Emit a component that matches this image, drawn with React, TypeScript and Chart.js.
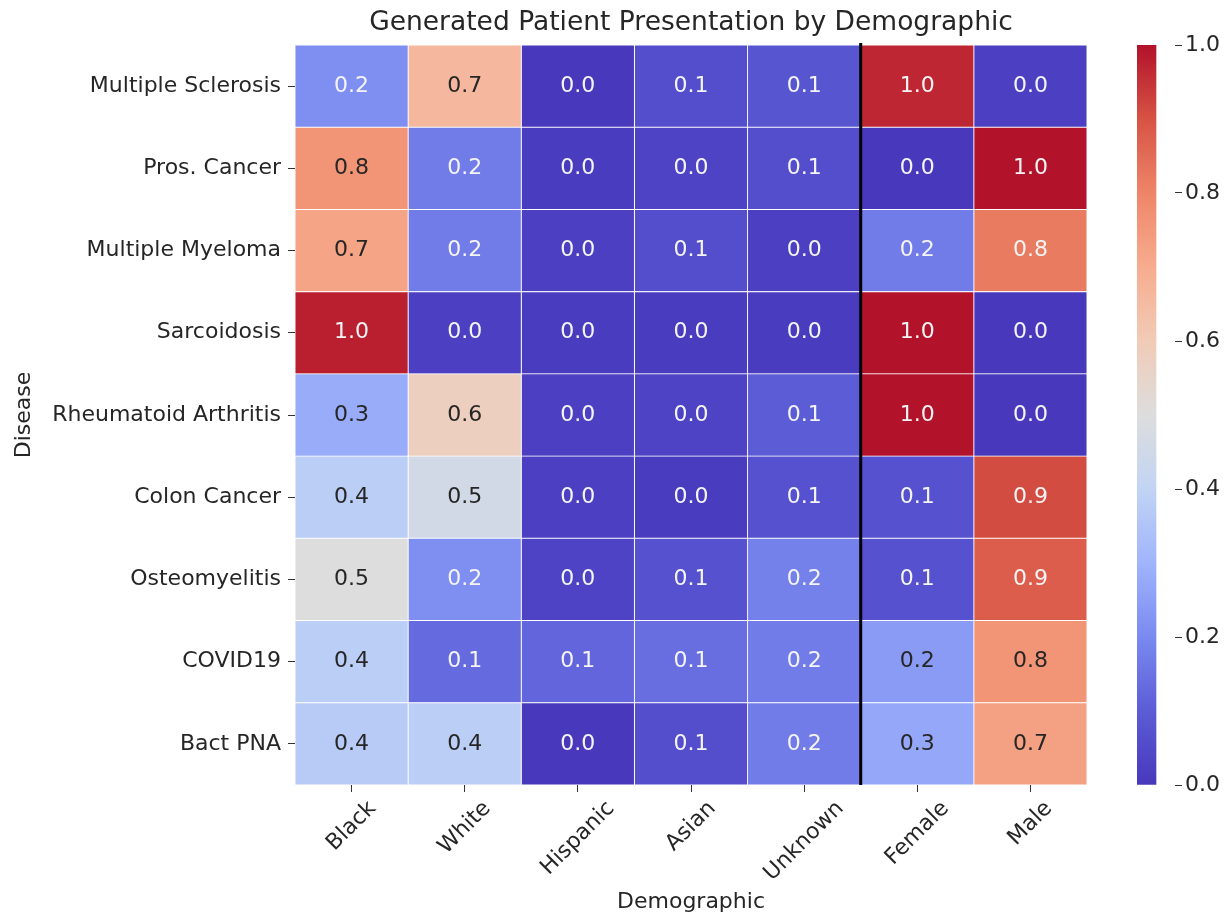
import React, { useEffect, useRef } from "react";
import { Chart, registerables } from "chart.js";

Chart.register(...registerables);
Chart.defaults.font.family = "'DejaVu Sans', 'Liberation Sans', sans-serif";

// ---------------- data ----------------
const diseases = [
  "Multiple Sclerosis",
  "Pros. Cancer",
  "Multiple Myeloma",
  "Sarcoidosis",
  "Rheumatoid Arthritis",
  "Colon Cancer",
  "Osteomyelitis",
  "COVID19",
  "Bact PNA",
];
const demographics = ["Black", "White", "Hispanic", "Asian", "Unknown", "Female", "Male"];

const blackValues = [0.21, 0.76, 0.72, 0.98, 0.28, 0.38, 0.5, 0.38, 0.37];
const whiteValues = [0.66, 0.17, 0.17, 0.02, 0.58, 0.46, 0.21, 0.13, 0.38];
const hispanicValues = [0.0, 0.01, 0.02, 0.01, 0.02, 0.02, 0.03, 0.12, 0.0];
const asianValues = [0.06, 0.03, 0.06, 0.01, 0.03, 0.01, 0.07, 0.14, 0.06];
const unknownValues = [0.08, 0.06, 0.02, 0.01, 0.1, 0.07, 0.18, 0.17, 0.17];
const femaleValues = [0.97, 0.0, 0.17, 1.0, 1.0, 0.07, 0.07, 0.24, 0.27];
const maleValues = [0.02, 1.0, 0.82, 0.0, 0.0, 0.91, 0.88, 0.76, 0.73];

const colorbarRange = [0, 1];
const colorbarTickStep = 0.2;
const separatorIndex = 5; // line between "Unknown" and "Female"

const chartTitle = "Generated Patient Presentation by Demographic";
const xAxisTitle = "Demographic";
const yAxisTitle = "Disease";

// ---------------- styling ----------------
const columns = [blackValues, whiteValues, hispanicValues, asianValues, unknownValues, femaleValues, maleValues];

const cmapStops: [number, number[]][] = [
  [0.0, [72, 56, 188]],
  [0.1, [92, 92, 214]],
  [0.2, [122, 138, 240]],
  [0.3, [160, 180, 252]],
  [0.4, [194, 212, 244]],
  [0.5, [221, 221, 221]],
  [0.6, [241, 203, 183]],
  [0.7, [247, 172, 142]],
  [0.8, [238, 133, 104]],
  [0.9, [215, 83, 68]],
  [1.0, [178, 18, 42]],
];

function valueToColor(v: number): string {
  const t = Math.max(0, Math.min(1, v));
  for (let i = 1; i < cmapStops.length; i++) {
    const [t1, c1] = cmapStops[i];
    const [t0, c0] = cmapStops[i - 1];
    if (t <= t1) {
      const f = (t - t0) / (t1 - t0);
      const c = c0.map((a, k) => Math.round(a + (c1[k] - a) * f));
      return `rgb(${c[0]},${c[1]},${c[2]})`;
    }
  }
  const c = cmapStops[cmapStops.length - 1][1];
  return `rgb(${c[0]},${c[1]},${c[2]})`;
}

function textColorFor(v: number): string {
  return v > 0.235 && v < 0.765 ? "#262626" : "#f4f4f4";
}

const FONT = "'DejaVu Sans', 'Liberation Sans', sans-serif";
const TEXT = "#262626";
const TICK = "#333333";
const FS = 22;

// page-coordinate layout (canvases are placed at page origin)
const MAIN_W = 1100;
const H = 922;
const AREA_RIGHT = 1087;
const AREA_LEFT = 295;
const AREA_TOP = 45;
const AREA_BOTTOM = 785;
const CB_LEFT_PAGE = 1108;
const CB_W = 118;
const CB_AREA_LEFT = 1137;
const CB_AREA_RIGHT = 1175;

const heatmapDecor = {
  id: "heatmapDecor",
  afterDatasetsDraw(chart: any) {
    const { ctx, chartArea, scales } = chart;
    const x = scales.x;
    const y = scales.y;
    ctx.save();
    // separator line
    const lx = x.getPixelForValue(separatorIndex);
    ctx.strokeStyle = "#000000";
    ctx.lineWidth = 3;
    ctx.beginPath();
    ctx.moveTo(lx, chartArea.top - 2);
    ctx.lineTo(lx, chartArea.bottom);
    ctx.stroke();
    // annotations
    ctx.font = `${FS}px ${FONT}`;
    ctx.textAlign = "center";
    ctx.textBaseline = "middle";
    columns.forEach((col, c) => {
      col.forEach((v, r) => {
        ctx.fillStyle = textColorFor(v);
        ctx.fillText(v.toFixed(1), x.getPixelForValue(c + 0.5), y.getPixelForValue(r));
      });
    });
    ctx.restore();
  },
  afterDraw(chart: any) {
    const { ctx, chartArea, scales } = chart;
    const x = scales.x;
    ctx.save();
    ctx.fillStyle = TEXT;
    // x tick labels, rotated 45deg, centered under tick
    ctx.font = `${FS}px ${FONT}`;
    ctx.textAlign = "center";
    ctx.textBaseline = "middle";
    const topY = chartArea.bottom + 7 + 4;
    demographics.forEach((label, i) => {
      const w = ctx.measureText(label).width;
      const h = FS * 1.17;
      const ext = (w + h) * Math.SQRT1_2;
      const cx = x.getPixelForValue(i + 0.5);
      const cy = topY + ext / 2;
      ctx.save();
      ctx.translate(cx, cy);
      ctx.rotate(-Math.PI / 4);
      ctx.fillText(label, 0, 0);
      ctx.restore();
    });
    // x axis title
    ctx.textBaseline = "alphabetic";
    ctx.fillText(xAxisTitle, (chartArea.left + chartArea.right) / 2, 908);
    // chart title
    ctx.font = `26.5px ${FONT}`;
    ctx.fillText(chartTitle, (chartArea.left + chartArea.right) / 2, 30);
    ctx.restore();
  },
};

export default function App() {
  const mainRef = useRef<HTMLCanvasElement | null>(null);
  const cbRef = useRef<HTMLCanvasElement | null>(null);

  useEffect(() => {
    if (!mainRef.current || !cbRef.current) return;

    const main = new Chart(mainRef.current, {
      type: "bar",
      data: {
        labels: diseases,
        datasets: demographics.map((name, c) => ({
          label: name,
          data: diseases.map(() => [c, c + 1]),
          backgroundColor: columns[c].map(valueToColor),
          borderColor: "#ffffff",
          borderWidth: 0.8,
          borderSkipped: false,
          barPercentage: 1,
          categoryPercentage: 1,
          grouped: false,
        })) as any,
      },
      options: {
        indexAxis: "y",
        animation: false,
        responsive: false,
        events: [],
        layout: { padding: { left: 0, right: MAIN_W - AREA_RIGHT, top: AREA_TOP, bottom: 0 } },
        plugins: { legend: { display: false }, title: { display: false }, tooltip: { enabled: false } },
        scales: {
          x: {
            type: "linear",
            min: 0,
            max: demographics.length,
            position: "bottom",
            afterBuildTicks: (s: any) => {
              s.ticks = demographics.map((_, i) => ({ value: i + 0.5 }));
            },
            afterFit: (s: any) => {
              s.height = H - AREA_BOTTOM;
            },
            ticks: { display: false },
            grid: { drawOnChartArea: false, drawTicks: true, tickLength: 7, color: TICK, lineWidth: 1 },
            border: { display: false },
          },
          y: {
            type: "category",
            offset: true,
            afterFit: (s: any) => {
              s.width = AREA_LEFT;
            },
            grid: { offset: false, drawOnChartArea: false, drawTicks: true, tickLength: 7, color: TICK, lineWidth: 1 },
            border: { display: false },
            ticks: { color: TEXT, font: { size: FS }, padding: 7, autoSkip: false },
            title: { display: true, text: yAxisTitle, color: TEXT, font: { size: FS }, padding: { top: 11, bottom: 0 } },
          },
        },
      } as any,
      plugins: [heatmapDecor],
    });

    const cb = new Chart(cbRef.current, {
      type: "bar",
      data: {
        labels: [""],
        datasets: [
          {
            data: [colorbarRange] as any,
            backgroundColor: (ctx: any) => {
              const chart = ctx.chart;
              const ys = chart.scales && chart.scales.y;
              if (!chart.chartArea || !ys) return "#ccc";
              const g = chart.ctx.createLinearGradient(0, ys.getPixelForValue(colorbarRange[0]), 0, ys.getPixelForValue(colorbarRange[1]));
              cmapStops.forEach(([t, c]) => g.addColorStop(t, `rgb(${c[0]},${c[1]},${c[2]})`));
              return g;
            },
            borderWidth: 0,
            barPercentage: 1,
            categoryPercentage: 1,
          },
        ],
      },
      options: {
        animation: false,
        responsive: false,
        events: [],
        layout: { padding: { left: CB_AREA_LEFT - CB_LEFT_PAGE, right: 0, top: AREA_TOP, bottom: H - AREA_BOTTOM } },
        plugins: { legend: { display: false }, title: { display: false }, tooltip: { enabled: false } },
        scales: {
          x: { display: false, offset: false },
          y: {
            type: "linear",
            position: "right",
            min: colorbarRange[0],
            max: colorbarRange[1],
            afterFit: (s: any) => {
              s.width = CB_W - (CB_AREA_RIGHT - CB_LEFT_PAGE);
            },
            ticks: {
              stepSize: colorbarTickStep,
              color: TEXT,
              font: { size: FS },
              padding: 3,
              callback: (v: any) => Number(v).toFixed(1),
            },
            grid: { drawOnChartArea: false, drawTicks: true, tickLength: 7, color: TICK, lineWidth: 1 },
            border: { display: false },
          },
        },
      } as any,
    });

    return () => {
      main.destroy();
      cb.destroy();
    };
  }, []);

  return (
    <div style={{ position: "relative", width: 1214, height: 914, marginBottom: -8 }}>
      <canvas
        ref={mainRef}
        width={MAIN_W}
        height={H}
        style={{ position: "absolute", left: -8, top: -8, width: MAIN_W, height: H }}
      />
      <canvas
        ref={cbRef}
        width={CB_W}
        height={H}
        style={{ position: "absolute", left: CB_LEFT_PAGE - 8, top: -8, width: CB_W, height: H }}
      />
    </div>
  );
}
